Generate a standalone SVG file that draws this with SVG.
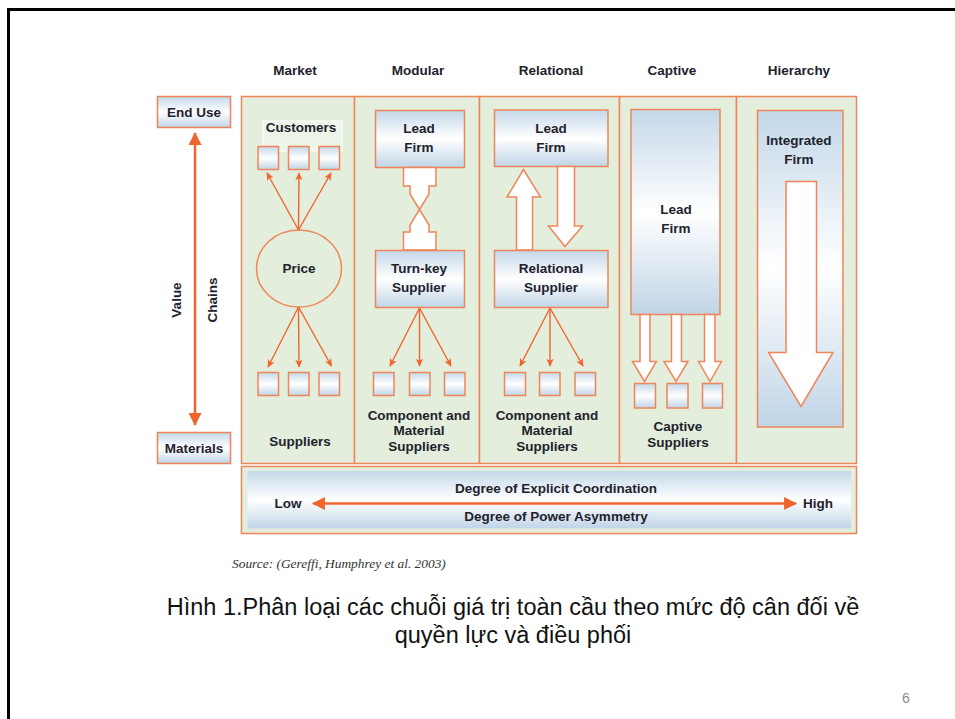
<svg xmlns="http://www.w3.org/2000/svg" width="955" height="719" viewBox="0 0 955 719">
<style>
.t{font-family:"Liberation Sans",Arial,sans-serif;font-weight:bold;font-size:13.5px;fill:#22222c;text-anchor:middle}
.panel{fill:#e4eedc;stroke:#ef8559;stroke-width:1.5}
.box{fill:url(#g);stroke:#ef8559;stroke-width:1.5}
.blk{fill:#fff;stroke:#ef8559;stroke-width:1.5;stroke-linejoin:miter}
.thin{stroke:#f0652e;stroke-width:1.4;fill:none;marker-end:url(#ah)}
.cap{font-family:"Liberation Sans",Arial,sans-serif;font-size:23.5px;fill:#111;text-anchor:middle}
</style>
<defs>
<linearGradient id="g" x1="0" y1="0" x2="0" y2="1">
<stop offset="0" stop-color="#c4d8e9"/>
<stop offset="0.5" stop-color="#ffffff"/>
<stop offset="1" stop-color="#c0d5e7"/>
</linearGradient>
<marker id="ah" viewBox="0 0 10 10" refX="9" refY="5" markerWidth="8" markerHeight="8" orient="auto" markerUnits="userSpaceOnUse">
<path d="M0,0.5 L10,5 L0,9.5 L2.5,5 z" fill="#f0652e"/>
</marker>
<marker id="big" viewBox="0 0 12 12" refX="11" refY="6" markerWidth="14" markerHeight="13" orient="auto-start-reverse" markerUnits="userSpaceOnUse">
<path d="M0,0 L12,6 L0,12 z" fill="#f0652e"/>
</marker>
</defs>
<rect width="955" height="719" fill="#fff"/>
<path d="M8.5,719 V9.5 H955" fill="none" stroke="#000" stroke-width="3"/>

<g id="headers">
<text class="t" x="295" y="75">Market</text>
<text class="t" x="418" y="75">Modular</text>
<text class="t" x="551" y="75">Relational</text>
<text class="t" x="672" y="75">Captive</text>
<text class="t" x="799" y="75">Hierarchy</text>
</g>

<g id="panels">
<rect class="panel" x="241.5" y="96.5" width="113" height="367"/>
<rect class="panel" x="354.5" y="96.5" width="125" height="367"/>
<rect class="panel" x="479.5" y="96.5" width="140" height="367"/>
<rect class="panel" x="619.5" y="96.5" width="117" height="367"/>
<rect class="panel" x="736.5" y="96.5" width="120" height="367"/>
</g>

<g id="end-use">
<rect class="box" x="157.5" y="96.5" width="73" height="31"/>
<text class="t" x="194" y="116.5">End Use</text>
</g>
<g id="materials">
<rect class="box" x="157.5" y="432.5" width="73" height="31"/>
<text class="t" x="194" y="452.5">Materials</text>
</g>
<g id="value-chains">
<line x1="195" y1="133" x2="195" y2="425" stroke="#f0652e" stroke-width="2.5" marker-start="url(#big)" marker-end="url(#big)"/>
<text class="t" transform="translate(181,300) rotate(-90)">Value</text>
<text class="t" transform="translate(217,300) rotate(-90)">Chains</text>
</g>

<g id="market">
<rect x="263" y="121" width="79" height="30" fill="#fff" fill-opacity="0.35" stroke="#fff" stroke-width="1"/>
<text class="t" x="301" y="132">Customers</text>
<rect class="box" x="258" y="146.5" width="20.5" height="23"/>
<rect class="box" x="288.5" y="146.5" width="20.5" height="23"/>
<rect class="box" x="319" y="146.5" width="20.5" height="23"/>
<ellipse cx="299" cy="268.5" rx="42.5" ry="38.5" fill="#e4eedc" stroke="#ef8559" stroke-width="1.5"/>
<text class="t" x="299" y="273">Price</text>
<rect class="box" x="258" y="372.5" width="20.5" height="23"/>
<rect class="box" x="288.5" y="372.5" width="20.5" height="23"/>
<rect class="box" x="319" y="372.5" width="20.5" height="23"/>
<text class="t" x="300" y="446">Suppliers</text>
</g>

<g id="modular">
<rect class="box" x="375.5" y="110.5" width="89" height="57"/>
<text class="t" x="419" y="133">Lead</text>
<text class="t" x="419" y="152">Firm</text>
<path class="blk" d="M403.5,167.5 H436 V186 H429 V194 L410,225 V232 H403.5 V250 H436 V232 H429 V225 L410,194 V186 H403.5 Z"/>
<rect class="box" x="375.5" y="250.5" width="89" height="57"/>
<text class="t" x="419" y="273">Turn-key</text>
<text class="t" x="419" y="292">Supplier</text>
<rect class="box" x="373.5" y="372.5" width="20.5" height="23"/>
<rect class="box" x="409.5" y="372.5" width="20.5" height="23"/>
<rect class="box" x="444.5" y="372.5" width="20.5" height="23"/>
<text class="t" x="419" y="420">Component and</text>
<text class="t" x="419" y="435">Material</text>
<text class="t" x="419" y="451">Suppliers</text>
</g>

<g id="relational">
<rect class="box" x="494.5" y="110" width="113.5" height="56.5"/>
<text class="t" x="551" y="133">Lead</text>
<text class="t" x="551" y="152">Firm</text>
<path class="blk" d="M516.5,250 V197 H507 L523.5,169.5 L540.5,197 H532.5 V250 Z"/>
<path class="blk" d="M557.5,166.5 V226 H548.5 L565,246.5 L582.5,226 H574.5 V166.5 Z"/>
<rect class="box" x="494.5" y="250.5" width="113.5" height="57"/>
<text class="t" x="551" y="273">Relational</text>
<text class="t" x="551" y="292">Supplier</text>
<rect class="box" x="504.5" y="372.5" width="21" height="23"/>
<rect class="box" x="539.5" y="372.5" width="20.5" height="23"/>
<rect class="box" x="575" y="372.5" width="20.5" height="23"/>
<text class="t" x="547" y="420">Component and</text>
<text class="t" x="547" y="435">Material</text>
<text class="t" x="547" y="451">Suppliers</text>
</g>

<g id="captive">
<rect class="box" x="631" y="109.5" width="89" height="205"/>
<text class="t" x="676" y="214">Lead</text>
<text class="t" x="676" y="233">Firm</text>
<path class="blk" d="M640,314.5 V361.5 H632.5 L644.5,381.5 L656.5,361.5 H650 V314.5 Z"/>
<path class="blk" d="M671.5,314.5 V361.5 H664 L676,381.5 L688,361.5 H681.5 V314.5 Z"/>
<path class="blk" d="M704.5,314.5 V361.5 H698.5 L710,381.5 L721.5,361.5 H715 V314.5 Z"/>
<rect class="box" x="634.5" y="383.5" width="21" height="24.5"/>
<rect class="box" x="667" y="383.5" width="21" height="24.5"/>
<rect class="box" x="702.5" y="383.5" width="20" height="24.5"/>
<text class="t" x="678" y="431">Captive</text>
<text class="t" x="678" y="447">Suppliers</text>
</g>

<g id="hierarchy">
<rect class="box" x="757.5" y="110.5" width="85.5" height="316.5"/>
<text class="t" x="799" y="145">Integrated</text>
<text class="t" x="799" y="164">Firm</text>
<path class="blk" d="M786,181.5 H816.5 V352.5 H833 L801,406.5 L768.5,352.5 H786 Z"/>
</g>

<g id="connectors">
<path class="thin" d="M298.5,230 L267,173"/>
<path class="thin" d="M298.5,230 L299,173"/>
<path class="thin" d="M298.5,230 L331,173"/>
<path class="thin" d="M298.5,307 L268,367"/>
<path class="thin" d="M298.5,307 L299,367"/>
<path class="thin" d="M298.5,307 L331.5,366"/>
<path class="thin" d="M419.5,308 L390,366"/>
<path class="thin" d="M419.5,308 L419.5,366"/>
<path class="thin" d="M419.5,308 L451,366"/>
<path class="thin" d="M550,308 L520,366"/>
<path class="thin" d="M550,308 L550,366"/>
<path class="thin" d="M550,308 L583,366"/>
</g>

<g id="degree-bar">
<rect x="241.5" y="466.5" width="615" height="67" fill="#e4eedc" stroke="#ef8559" stroke-width="1.5"/>
<rect x="247.5" y="471" width="603.5" height="57.5" fill="url(#g)"/>
<text class="t" x="556" y="493">Degree of Explicit Coordination</text>
<text class="t" x="556" y="521">Degree of Power Asymmetry</text>
<text class="t" x="288" y="508">Low</text>
<text class="t" x="818" y="508">High</text>
<line x1="313" y1="503.5" x2="796" y2="503.5" stroke="#f0652e" stroke-width="2.5" marker-start="url(#big)" marker-end="url(#big)"/>
</g>

<text x="232" y="568" font-family="'Liberation Serif','Times New Roman',serif" font-style="italic" font-size="13.4" fill="#333">Source: (Gereffi, Humphrey et al. 2003)</text>

<text class="cap" x="513" y="615">Hình 1.Phân loại các chuỗi giá trị toàn cầu theo mức độ cân đối về</text>
<text class="cap" x="513" y="643">quyền lực và điều phối</text>
<text x="906" y="703" font-family="'Liberation Sans',Arial,sans-serif" font-size="14" fill="#8a8a8a" text-anchor="middle">6</text>
</svg>
